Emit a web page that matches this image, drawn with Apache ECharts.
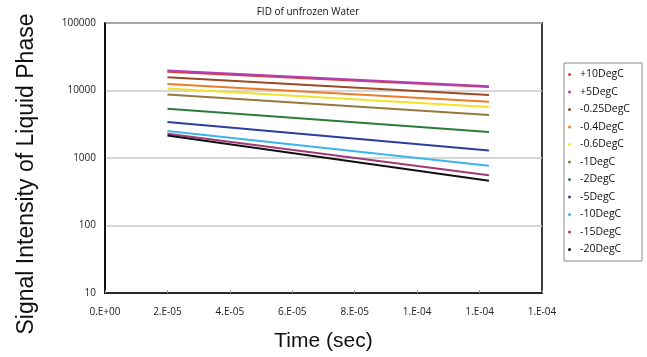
<!DOCTYPE html>
<html>
<head>
<meta charset="utf-8">
<script src="https://cdn.jsdelivr.net/npm/echarts@6/dist/echarts.min.js"></script>
<style>
  html, body { margin: 0; padding: 0; background: #fff; }
  #chart { width: 647px; height: 357px; }
</style>
</head>
<body>
<div id="chart"></div>
<script>
// time points (sec): first and last sample of each curve
const times = [2.0e-5, 1.23e-4];

const seriesNames = ['+10DegC', '+5DegC', '-0.25DegC', '-0.4DegC', '-0.6DegC',
  '-1DegC', '-2DegC', '-5DegC', '-10DegC', '-15DegC', '-20DegC'];

// signal intensity at the two time points
const p10 = [19000, 11300];
const p5 = [19800, 11600];
const m025 = [15700, 8600];
const m04 = [12500, 6800];
const m06 = [10700, 5700];
const m1 = [8700, 4350];
const m2 = [5350, 2430];
const m5 = [3420, 1290];
const m10 = [2520, 770];
const m15 = [2280, 555];
const m20 = [2150, 462];

const seriesValues = [p10, p5, m025, m04, m06, m1, m2, m5, m10, m15, m20];

const colors = ['#d8403a', '#b040b8', '#9a4a24', '#f07a28', '#f2e22a',
  '#94783c', '#2e7a3a', '#2a3fa0', '#3cb4ec', '#a03a78', '#111111'];

const yTicks = [10, 100, 1000, 10000, 100000];

// Excel style "0.E+00"
function sciLabel(v) {
  if (Math.abs(v) < 1e-12) return '0.E+00';
  const s = v.toExponential(0); // e.g. "2e-5"
  const parts = s.split('e');
  const exp = parseInt(parts[1], 10);
  const sign = exp < 0 ? '-' : '+';
  const e = Math.abs(exp);
  return parts[0] + '.E' + sign + (e < 10 ? '0' + e : e);
}

const chart = echarts.init(document.getElementById('chart'));

const series = seriesNames.map((name, i) => ({
  name: name,
  type: 'line',
  symbol: 'circle',
  symbolSize: 0,
  showSymbol: false,
  lineStyle: { width: 2, color: colors[i] },
  itemStyle: { color: colors[i] },
  data: times.map((t, k) => [t, seriesValues[i][k]])
}));

chart.setOption({
  backgroundColor: '#fff',
  animation: false,
  title: {
    text: 'FID of unfrozen Water',
    left: 303,
    textAlign: 'center',
    top: 2,
    textStyle: { fontFamily: 'Open Sans', fontSize: 10, fontWeight: 'normal', color: '#111' }
  },
  // y axis title sits a bit below the plot centre in the original
  graphic: [{
    type: 'text',
    x: 27,
    y: 174,
    rotation: Math.PI / 2,
    style: {
      text: 'Signal Intensity of Liquid Phase',
      fontFamily: 'Liberation Sans',
      fontSize: 23,
      fill: '#111',
      align: 'center',
      verticalAlign: 'middle'
    }
  }],
  legend: {
    orient: 'vertical',
    left: 564,
    top: 63,
    width: 78,
    padding: [6, 12, 6, 4],
    itemGap: 6.5,
    itemWidth: 3,
    itemHeight: 3,
    icon: 'circle',
    borderColor: '#888',
    borderWidth: 1,
    textStyle: { fontFamily: 'Open Sans', fontSize: 10.5, color: '#111', padding: [0, 0, 0, 4] },
    data: seriesNames
  },
  grid: {
    left: 105,
    right: 105,
    top: 23,
    bottom: 64,
    show: true,
    borderColor: '#000',
    borderWidth: 1.5
  },
  xAxis: {
    type: 'value',
    min: 0,
    max: 1.4e-4,
    interval: 2e-5,
    name: 'Time (sec)',
    nameLocation: 'middle',
    nameGap: 38,
    nameTextStyle: { fontFamily: 'Liberation Sans', fontSize: 21, color: '#111' },
    axisLine: { show: true, lineStyle: { color: '#000', width: 1.5 } },
    axisTick: { show: true, inside: true, length: 3, lineStyle: { color: '#999' } },
    axisLabel: {
      fontFamily: 'Open Sans', fontSize: 10, color: '#222', margin: 14,
      formatter: sciLabel
    },
    splitLine: { show: false }
  },
  yAxis: {
    type: 'log',
    logBase: 10,
    min: yTicks[0],
    max: yTicks[yTicks.length - 1],
    axisLine: { show: true, lineStyle: { color: '#000', width: 1.5 } },
    axisTick: { show: false },
    minorTick: { show: false },
    axisLabel: {
      fontFamily: 'Open Sans', fontSize: 10, color: '#222', margin: 9,
      formatter: v => String(Math.round(v))
    },
    splitLine: { show: true, lineStyle: { color: '#c8c8c8', width: 1.5 } }
  },
  series: series
});
</script>
</body>
</html>
